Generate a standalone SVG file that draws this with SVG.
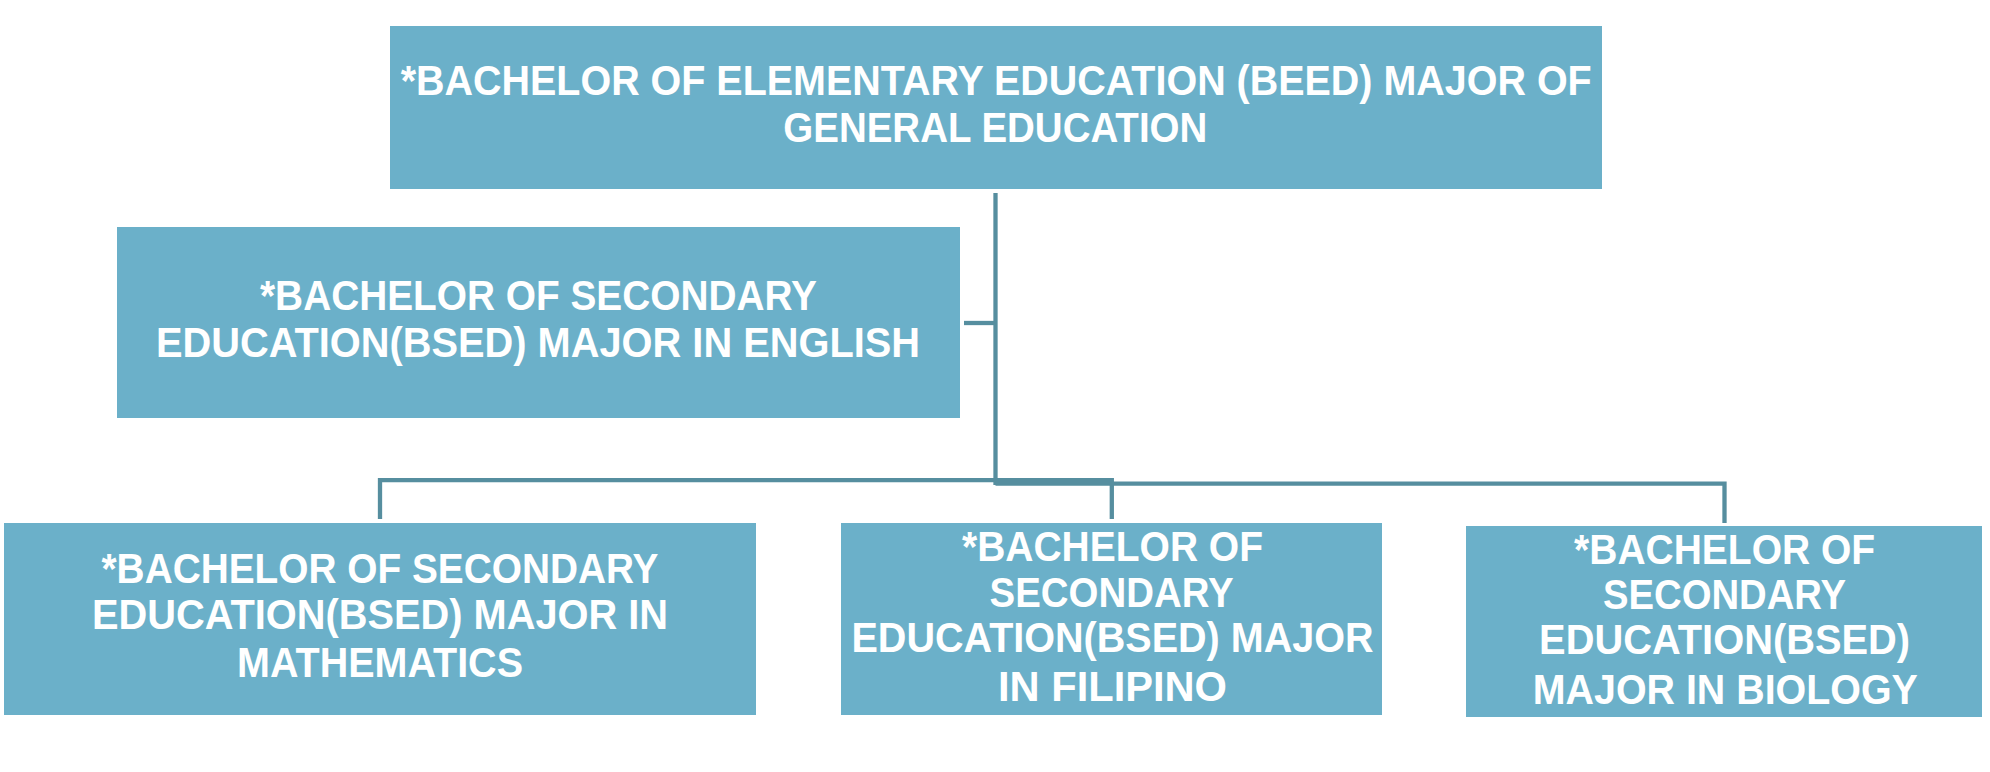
<svg xmlns="http://www.w3.org/2000/svg" width="1990" height="772" viewBox="0 0 1990 772">
<style>
.box{fill:#6BB0C9}
.t{font-family:"Liberation Sans","Arial",sans-serif;font-weight:bold;font-size:42px;fill:#FFFFFF;text-anchor:middle}
.c{fill:none;stroke:#568E9F;stroke-width:4.3;stroke-linejoin:miter;stroke-linecap:butt}
</style>
<rect width="1990" height="772" fill="#FFFFFF"/>
<g id="connectors">
<path class="c" d="M995.5,193 V485"/>
<path class="c" d="M964,323 H995.5"/>
<path class="c" d="M380,519 V480.2 H1111.8 V519"/>
<path class="c" d="M995.5,483.6 H1724.5 V523"/>
</g>
<g id="beed">
<rect class="box" x="390" y="26" width="1212" height="163"/>
<text class="t" x="996.2" y="95" textLength="1191" lengthAdjust="spacingAndGlyphs">*BACHELOR OF ELEMENTARY EDUCATION (BEED) MAJOR OF</text>
<text class="t" x="995.3" y="141.7" textLength="424" lengthAdjust="spacingAndGlyphs">GENERAL EDUCATION</text>
</g>
<g id="english">
<rect class="box" x="117" y="227" width="843" height="191"/>
<text class="t" x="538.5" y="310" textLength="557" lengthAdjust="spacingAndGlyphs">*BACHELOR OF SECONDARY</text>
<text class="t" x="538" y="356.7" textLength="764" lengthAdjust="spacingAndGlyphs">EDUCATION(BSED) MAJOR IN ENGLISH</text>
</g>
<g id="mathematics">
<rect class="box" x="4" y="523" width="752" height="192"/>
<text class="t" x="380" y="583.3" textLength="557" lengthAdjust="spacingAndGlyphs">*BACHELOR OF SECONDARY</text>
<text class="t" x="380" y="629.3" textLength="576" lengthAdjust="spacingAndGlyphs">EDUCATION(BSED) MAJOR IN</text>
<text class="t" x="380" y="677" textLength="286" lengthAdjust="spacingAndGlyphs">MATHEMATICS</text>
</g>
<g id="filipino">
<rect class="box" x="841" y="523" width="541" height="192"/>
<text class="t" x="1112.5" y="560.7" textLength="301" lengthAdjust="spacingAndGlyphs">*BACHELOR OF</text>
<text class="t" x="1111.6" y="606.7" textLength="244" lengthAdjust="spacingAndGlyphs">SECONDARY</text>
<text class="t" x="1112.5" y="651.7" textLength="522" lengthAdjust="spacingAndGlyphs">EDUCATION(BSED) MAJOR</text>
<text class="t" x="1112.5" y="700.7" textLength="229" lengthAdjust="spacingAndGlyphs">IN FILIPINO</text>
</g>
<g id="biology">
<rect class="box" x="1466" y="526" width="516" height="191"/>
<text class="t" x="1724.6" y="564" textLength="301" lengthAdjust="spacingAndGlyphs">*BACHELOR OF</text>
<text class="t" x="1724.6" y="609.3" textLength="243" lengthAdjust="spacingAndGlyphs">SECONDARY</text>
<text class="t" x="1724.6" y="654" textLength="371" lengthAdjust="spacingAndGlyphs">EDUCATION(BSED)</text>
<text class="t" x="1725.3" y="704" textLength="385" lengthAdjust="spacingAndGlyphs">MAJOR IN BIOLOGY</text>
</g>
</svg>
